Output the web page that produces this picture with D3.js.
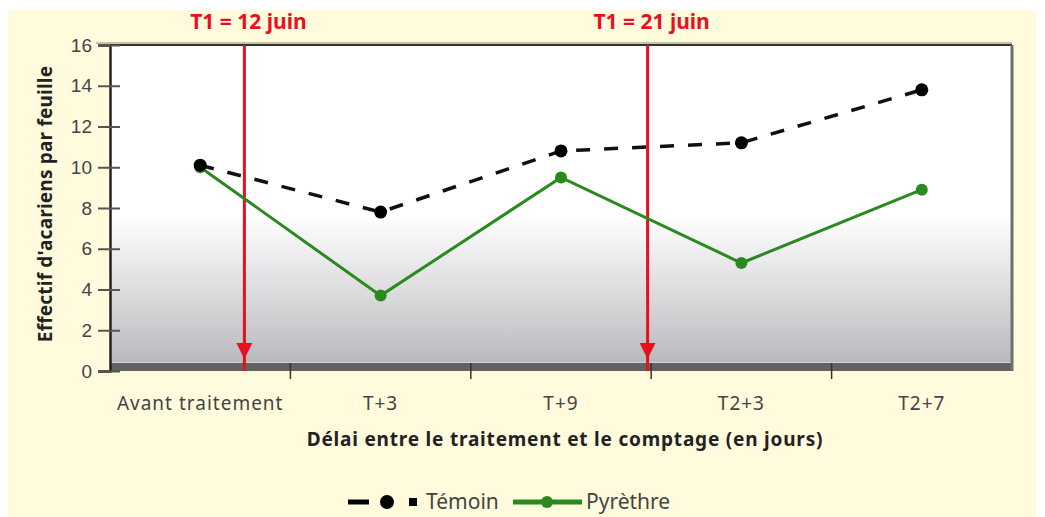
<!doctype html>
<html lang="fr">
  <head>
    <meta charset="utf-8">
    <title>Effectif d'acariens par feuille</title>
    <script src="https://cdn.jsdelivr.net/npm/d3@7"></script>
    <style>
      body { margin: 0; background: #fff; }
      svg { display: block; font-family: "Noto Sans", "Open Sans", sans-serif; }
    </style>
  </head>
  <body>
    <div id="chart"></div>
  <script>
    // data
    const categories = ['Avant traitement', 'T+3', 'T+9', 'T2+3', 'T2+7'];
    const temoin = [10.1, 7.8, 10.8, 11.2, 13.8];
    const pyrethre = [10.0, 3.7, 9.5, 5.3, 8.9];
    const yTicks = [0, 2, 4, 6, 8, 10, 12, 14, 16];
    // treatment dates, as a position between categories (index units)
    const treatments = [
      {label: 'T1 = 12 juin', at: 0.245},
      {label: 'T1 = 21 juin', at: 2.48}
    ];

    const w = 1045, h = 517;
    const margin = {top: 45, right: 33, bottom: 146, left: 110};
    const innerW = w - margin.left - margin.right;
    const innerH = h - margin.top - margin.bottom;

    const svg = d3.select('#chart').append('svg')
      .attr('width', w)
      .attr('height', h);

    // cream background
    svg.append('rect')
      .attr('x', 8).attr('y', 10)
      .attr('width', 1028).attr('height', h - 10)
      .attr('fill', '#fffbdc');

    const defs = svg.append('defs');
    const grad = defs.append('linearGradient')
      .attr('id', 'wall')
      .attr('x1', 0).attr('y1', 0).attr('x2', 0).attr('y2', 1);
    grad.append('stop').attr('offset', '0%').attr('stop-color', '#ffffff');
    grad.append('stop').attr('offset', '52%').attr('stop-color', '#ffffff');
    grad.append('stop').attr('offset', '65%').attr('stop-color', '#ececee');
    grad.append('stop').attr('offset', '90%').attr('stop-color', '#c6c6ca');
    grad.append('stop').attr('offset', '100%').attr('stop-color', '#b4b4b8');

    const g = svg.append('g')
      .attr('transform', 'translate(' + margin.left + ',' + margin.top + ')');

    const x = d3.scaleBand().domain(categories).range([0, innerW]);
    const xi = d3.scaleLinear().domain([0, categories.length - 1])
      .range([x.bandwidth() / 2, innerW - x.bandwidth() / 2]);
    const y = d3.scaleLinear().domain([0, 16]).range([innerH, 0]);

    // plot wall
    g.append('rect')
      .attr('width', innerW).attr('height', innerH)
      .attr('fill', 'url(#wall)');
    // floor band
    g.append('rect')
      .attr('x', 0).attr('y', innerH - 8)
      .attr('width', innerW).attr('height', 8)
      .attr('fill', '#626262');
    g.append('line')
      .attr('x1', 0).attr('x2', innerW)
      .attr('y1', innerH - 8.5).attr('y2', innerH - 8.5)
      .attr('stroke', '#d4d4d6').attr('stroke-width', 1);
    // frame
    g.append('line')
      .attr('x1', -14).attr('x2', innerW)
      .attr('y1', -2).attr('y2', -2)
      .attr('stroke', '#c8c3a0').attr('stroke-width', 2);
    g.append('line')
      .attr('x1', 0).attr('x2', innerW)
      .attr('y1', 0).attr('y2', 0)
      .attr('stroke', '#333').attr('stroke-width', 2);
    g.append('line')
      .attr('x1', innerW).attr('x2', innerW)
      .attr('y1', 0).attr('y2', innerH)
      .attr('stroke', '#6f6f6f').attr('stroke-width', 3);

    // y axis
    const yAxis = g.append('g')
      .call(d3.axisLeft(y).tickValues(yTicks).tickSize(12).tickPadding(8));
    yAxis.select('.domain').attr('stroke', '#222').attr('stroke-width', 2.5);
    yAxis.selectAll('.tick line')
      .attr('stroke', '#555').attr('stroke-width', 2)
      .attr('x2', 10).attr('x1', -12);
    yAxis.selectAll('.tick text')
      .attr('x', -18)
      .attr('font-size', '19px').attr('fill', '#444');

    // x axis: ticks between categories
    const xAxis = g.append('g')
      .attr('transform', 'translate(0,' + innerH + ')');
    xAxis.selectAll('line.sep')
      .data(categories.slice(1))
      .enter().append('line')
      .attr('class', 'sep')
      .attr('x1', d => x(d)).attr('x2', d => x(d))
      .attr('y1', -8).attr('y2', 8)
      .attr('stroke', '#333').attr('stroke-width', 1.5);
    xAxis.selectAll('text')
      .data(categories)
      .enter().append('text')
      .attr('x', d => x(d) + x.bandwidth() / 2)
      .attr('y', 39)
      .attr('text-anchor', 'middle')
      .attr('font-size', '19px')
      .attr('letter-spacing', '1px')
      .attr('fill', '#444')
      .text(d => d);

    // axis titles
    svg.append('text')
      .attr('x', margin.left + innerW / 2 + 4)
      .attr('y', 446)
      .attr('text-anchor', 'middle')
      .attr('font-size', '19px')
      .attr('letter-spacing', '0.8px')
      .attr('font-weight', 'bold')
      .attr('fill', '#222')
      .text('Délai entre le traitement et le comptage (en jours)');
    svg.append('text')
      .attr('transform', 'translate(52,204) rotate(-90)')
      .attr('text-anchor', 'middle')
      .attr('font-size', '19px')
      .attr('letter-spacing', '0.2px')
      .attr('font-weight', 'bold')
      .attr('fill', '#222')
      .text("Effectif d'acariens par feuille");

    // treatment arrows
    treatments.forEach(t => {
      const tx = xi(t.at);
      g.append('line')
        .attr('x1', tx).attr('x2', tx)
        .attr('y1', 0).attr('y2', innerH)
        .attr('stroke', '#e8101e').attr('stroke-width', 3);
      g.append('path')
        .attr('transform', 'translate(' + tx + ',' + (innerH - 12) + ')')
        .attr('d', 'M-8,-16 L8,-16 L0,0 Z')
        .attr('fill', '#e8101e');
      svg.append('text')
        .attr('x', margin.left + tx + 4)
        .attr('y', 29)
        .attr('text-anchor', 'middle')
        .attr('font-size', '21px')
        .attr('font-weight', 'bold')
        .attr('fill', '#e8101e')
        .text(t.label);
    });

    const line = d3.line()
      .x((d, i) => xi(i))
      .y(d => y(d));

    // Pyrèthre
    g.append('path')
      .datum(pyrethre)
      .attr('d', line)
      .attr('fill', 'none')
      .attr('stroke', '#2a8a1e')
      .attr('stroke-width', 3);
    g.selectAll('circle.pyr')
      .data(pyrethre)
      .enter().append('circle')
      .attr('class', 'pyr')
      .attr('cx', (d, i) => xi(i)).attr('cy', d => y(d))
      .attr('r', 6).attr('fill', '#2a8a1e');

    // Témoin
    g.append('path')
      .datum(temoin)
      .attr('d', line)
      .attr('fill', 'none')
      .attr('stroke', '#111')
      .attr('stroke-width', 3.5)
      .attr('stroke-dasharray', '14,14');
    g.selectAll('circle.temoin')
      .data(temoin)
      .enter().append('circle')
      .attr('class', 'temoin')
      .attr('cx', (d, i) => xi(i)).attr('cy', d => y(d))
      .attr('r', 6.5).attr('fill', '#000');

    // legend
    const lg = svg.append('g').attr('transform', 'translate(0,502)');
    lg.append('line')
      .attr('x1', 348).attr('x2', 369).attr('y1', 0).attr('y2', 0)
      .attr('stroke', '#000').attr('stroke-width', 5);
    lg.append('circle').attr('cx', 387).attr('cy', 0).attr('r', 7).attr('fill', '#000');
    lg.append('rect').attr('x', 409).attr('y', -4).attr('width', 8).attr('height', 8).attr('fill', '#000');
    lg.append('text')
      .attr('x', 426).attr('y', 7)
      .attr('font-size', '21px').attr('fill', '#444')
      .text('Témoin');
    lg.append('line')
      .attr('x1', 513).attr('x2', 582).attr('y1', 0).attr('y2', 0)
      .attr('stroke', '#2a8a1e').attr('stroke-width', 5);
    lg.append('circle').attr('cx', 547).attr('cy', 0).attr('r', 6).attr('fill', '#2a8a1e');
    lg.append('text')
      .attr('x', 586).attr('y', 7)
      .attr('font-size', '21px').attr('fill', '#444')
      .text('Pyrèthre');
  </script>
  </body>
</html>
